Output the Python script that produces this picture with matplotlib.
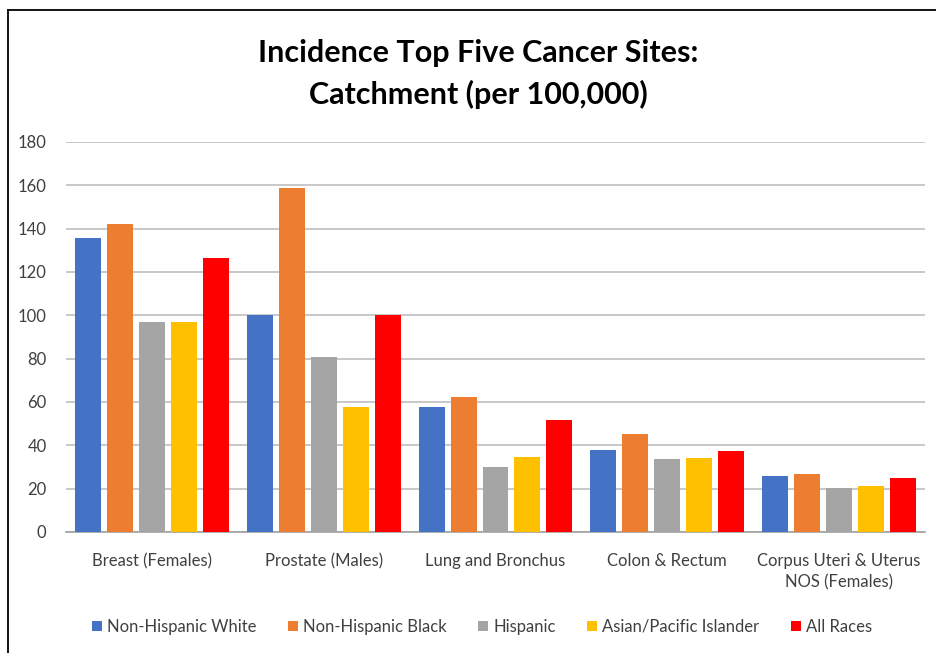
import matplotlib.pyplot as plt
import numpy as np
from matplotlib.lines import Line2D

plt.rcParams['font.family'] = ['Lato', 'DejaVu Sans']

categories = ['Breast (Females)', 'Prostate (Males)', 'Lung and Bronchus',
              'Colon & Rectum', 'Corpus Uteri & Uterus\nNOS (Females)']
series_names = ['Non-Hispanic White', 'Non-Hispanic Black', 'Hispanic',
                'Asian/Pacific Islander', 'All Races']
nh_white = [135.7, 100.0, 57.8, 37.8, 26.0]
nh_black = [142.0, 158.9, 62.3, 45.1, 26.9]
hispanic = [96.8, 80.9, 30.0, 33.7, 20.5]
asian_pi = [96.8, 57.8, 34.6, 34.3, 21.4]
all_races = [126.3, 100.0, 51.8, 37.5, 25.1]
colors = ['#4472C4', '#ED7D31', '#A5A5A5', '#FFC000', '#FF0000']

fig = plt.figure(figsize=(9.37, 6.53), dpi=100)
ax = fig.add_axes([66 / 937, 1 - 532 / 653, (925 - 66) / 937, (532 - 142) / 653])

x = np.arange(len(categories))
pitch = 0.186
width = 0.151
all_series = [nh_white, nh_black, hispanic, asian_pi, all_races]
for i, (vals, name, c) in enumerate(zip(all_series, series_names, colors)):
    ax.bar(x + (i - 2) * pitch, vals, width, color=c, label=name, zorder=3)

ax.set_xlim(-0.5, len(categories) - 0.5)
ax.set_ylim(0, 180)
ax.set_yticks(range(0, 181, 20))
ax.set_xticks(x)
ax.set_xticklabels(categories, fontsize=12, color='#404040', linespacing=1.45)
ax.tick_params(axis='y', labelsize=12, labelcolor='#404040', length=0, pad=14)
ax.tick_params(axis='x', length=0, pad=15)
ax.grid(axis='y', color='#BFBFBF', linewidth=1.2, zorder=0)
for s in ['top', 'right', 'left']:
    ax.spines[s].set_visible(False)
ax.spines['bottom'].set_color('#A0A0A0')
ax.spines['bottom'].set_linewidth(1.2)

fig.text(478 / 937, 1 - 74 / 653, 'Incidence Top Five Cancer Sites:\nCatchment (per 100,000)',
         ha='center', va='center', fontsize=22, fontweight='bold', linespacing=1.55)

ax.legend(loc='center', bbox_to_anchor=(482 / 937, 1 - 627 / 653),
          bbox_transform=fig.transFigure, ncol=5, frameon=False, fontsize=12,
          handlelength=0.6, handleheight=0.6, handletextpad=0.3, columnspacing=1.9,
          labelcolor='#404040')

# chart frame: only the top and left edges are visible in the crop
fig.add_artist(Line2D([8 / 937, 1], [1 - 10 / 653, 1 - 10 / 653], transform=fig.transFigure,
                      color='black', linewidth=1.3))
fig.add_artist(Line2D([8 / 937, 8 / 937], [0, 1 - 10 / 653], transform=fig.transFigure,
                      color='black', linewidth=1.3))

fig.savefig('out.png', dpi=100)
